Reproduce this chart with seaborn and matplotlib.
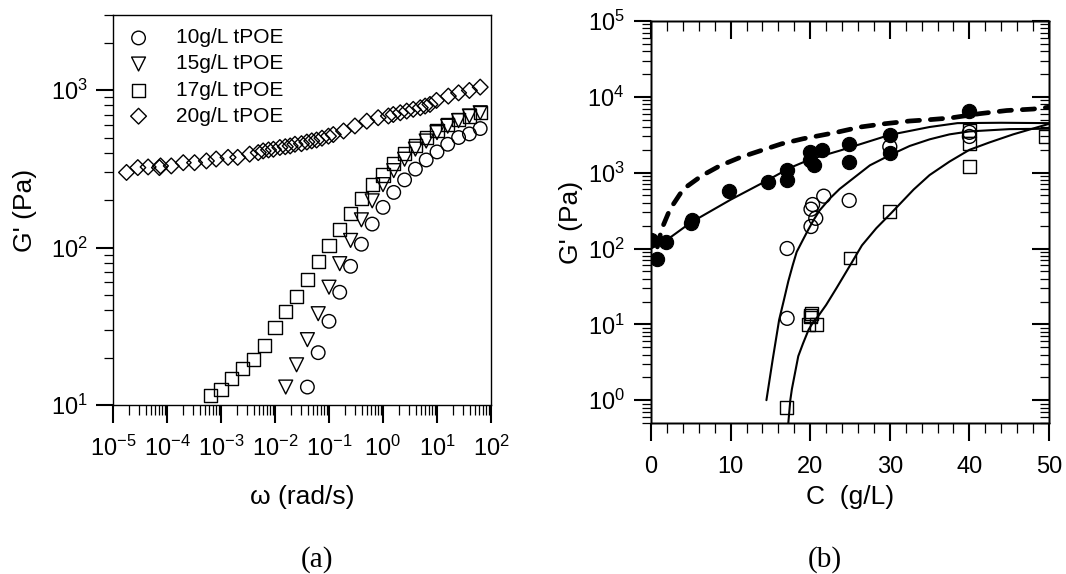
import numpy as np
import pandas as pd
import matplotlib
matplotlib.use("Agg")
import matplotlib.pyplot as plt
import matplotlib.ticker as mticker
import seaborn as sns

# (a) G' vs omega, four tPOE concentrations
w_10 = [0.0398, 0.0631, 0.1, 0.158, 0.251, 0.398, 0.631, 1.0, 1.58, 2.51,
        3.98, 6.31, 10.0, 15.8, 25.1, 39.8, 63.1]
g_10 = [13, 21.5, 34, 52, 76, 105, 141, 180, 224, 269,
        315, 360, 405, 453, 500, 527, 570]

w_15 = [0.0158, 0.0251, 0.0398, 0.0631, 0.1, 0.158, 0.251, 0.398, 0.631, 1.0,
        1.58, 2.51, 3.98, 6.31, 10.0, 15.8, 25.1, 39.8, 63.1]
g_15 = [13, 18, 26, 38, 56, 79, 111, 150, 198, 251,
        308, 364, 422, 475, 537, 590, 640, 685, 718]

w_17 = [6.31e-4, 1.0e-3, 1.58e-3, 2.51e-3, 3.98e-3, 6.31e-3, 0.01, 0.0158, 0.0251,
        0.0398, 0.0631, 0.1, 0.158, 0.251, 0.398, 0.631, 1.0, 1.58, 2.51, 3.98,
        6.31, 10.0, 15.8, 25.1, 39.8, 63.1]
g_17 = [11.5, 12.6, 14.8, 17.1, 19.5, 24, 31, 39, 49,
        63, 81, 103, 131, 165, 205, 250, 289, 341, 395, 447,
        500, 552, 602, 650, 685, 718]

w_20 = [1.78e-5, 2.88e-5, 4.47e-5, 7.24e-5, 7.59e-5, 1.20e-4, 2.00e-4, 3.24e-4,
        5.37e-4, 8.13e-4, 1.35e-3, 2.04e-3, 3.39e-3, 4.90e-3, 6.03e-3, 7.59e-3,
        9.33e-3, 0.0123, 0.0155, 0.0191, 0.0234, 0.0309, 0.0389, 0.0479, 0.0589,
        0.0741, 0.0977, 0.120, 0.186, 0.302, 0.501, 0.813, 1.26, 1.55, 2.09, 2.75,
        3.63, 4.90, 6.03, 7.41, 9.77, 16.2, 25.1, 39.8, 63.1]
g_20 = [300, 322, 325, 322, 330, 330, 346, 346,
        355, 365, 374, 374, 392, 401, 411, 417,
        421, 432, 437, 442, 453, 457, 468, 476, 482,
        495, 510, 522, 550, 592, 635, 668, 685, 700, 718, 736,
        755, 773, 792, 811, 860, 916, 961, 995, 1045]

a_labels = ["10g/L tPOE", "15g/L tPOE", "17g/L tPOE", "20g/L tPOE"]

# (b) G' vs concentration
c_fill = [0, 0.75, 1.9, 5.0, 5.2, 9.8, 14.7, 17.1, 17.1, 20.0, 20.0, 20.5, 21.5,
          24.9, 24.9, 30.0, 30.0, 40.0]
g_fill = [130, 72, 120, 220, 235, 580, 750, 1100, 800, 1900, 1450, 1250, 2000,
          2400, 1400, 3100, 1800, 6500]

c_open = [17.1, 17.1, 20.1, 20.7, 20.1, 20.3, 21.7, 24.9, 30.0, 40.0, 40.0]
g_open = [100, 12, 195, 250, 330, 380, 490, 430, 2200, 3000, 3400]

c_sq = [17.0, 19.8, 20.0, 20.2, 20.0, 20.8, 25.0, 30.0, 40.0, 40.0, 40.0, 49.6]
g_sq = [0.8, 10, 12.5, 14, 13, 10, 75, 310, 1200, 2400, 3600, 3000]

# fitted curves
c_dash = [0.8, 1.34, 2.39, 4.06, 6.37, 8.67, 11.2, 13.7, 16.4, 19.1, 23.3, 26.3,
          29.2, 32.5, 35.0, 37.6, 41.3, 44.7, 48.0, 50.0]
g_dash = [105, 180, 330, 608, 910, 1235, 1590, 1940, 2400, 2800, 3400, 4000,
          4400, 4800, 5000, 5260, 6000, 6600, 6900, 7300]

c_fit1 = [0, 2, 5, 10, 14.5, 17.4, 20, 23.7, 30, 35, 38.5, 44, 50]
g_fit1 = [100, 130, 220, 440, 780, 1150, 1500, 1950, 3150, 4000, 4500, 4550, 4500]

c_fit2 = [14.5, 15.3, 16.1, 16.7, 17.25, 17.8, 18.3, 19.0, 19.6, 20.4, 21.2, 22.5,
          23.7, 25, 27.5, 30, 32.5, 35, 37.5, 40, 45, 50]
g_fit2 = [1.0, 3.5, 11.5, 21, 37, 60, 90, 125, 165, 235, 320, 460,
          610, 780, 1250, 1700, 2250, 2750, 3200, 3500, 3750, 3800]

c_fit3 = [17.25, 17.5, 17.7, 18.5, 19.1, 19.8, 20.4, 21, 22, 23.3, 24.8, 26.5,
          28.3, 30.2, 33, 35, 37.5, 40, 42.5, 45.5, 50]
g_fit3 = [0.5, 1.0, 1.4, 3.8, 5.6, 8.5, 10.8, 12.8, 18, 30, 55, 110,
          185, 295, 600, 930, 1400, 2000, 2500, 3200, 4400]

sns.set_style("ticks", {"axes.edgecolor": "black", "xtick.color": "black",
                        "ytick.color": "black", "text.color": "black",
                        "axes.labelcolor": "black"})
plt.rcParams["font.family"] = ["Liberation Sans", "DejaVu Sans"]
plt.rcParams["mathtext.default"] = "regular"
plt.rcParams["axes.linewidth"] = 1.0

fig = plt.figure(figsize=(10.66, 5.74), dpi=100)
ax_a = fig.add_axes([113 / 1066, 1 - 405 / 574, 378 / 1066, 390 / 574])
ax_b = fig.add_axes([651 / 1066, 1 - 423 / 574, 398 / 1066, 402 / 574])


def hollow(ax, x, y, marker, s, label=None):
    sns.scatterplot(x=x, y=y, marker=marker, s=s, facecolor="none",
                    edgecolor="black", linewidth=1.0, ax=ax, label=label, zorder=3)


# ---- panel (a)
ax_a.set_xscale("log")
ax_a.set_yscale("log")
hollow(ax_a, w_10, g_10, "o", 95, a_labels[0])
hollow(ax_a, w_15, g_15, "v", 100, a_labels[1])
hollow(ax_a, w_17, g_17, "s", 88, a_labels[2])
hollow(ax_a, w_20, g_20, "D", 64, a_labels[3])
ax_a.set_xlim(1e-5, 1e2)
ax_a.set_ylim(10, 3000)
ax_a.xaxis.set_major_locator(mticker.LogLocator(base=10, numticks=20))
ax_a.xaxis.set_minor_locator(mticker.LogLocator(base=10, subs=np.arange(2, 10), numticks=100))
ax_a.yaxis.set_major_locator(mticker.LogLocator(base=10, numticks=20))
ax_a.yaxis.set_minor_locator(mticker.LogLocator(base=10, subs=np.arange(2, 10), numticks=100))
ax_a.xaxis.set_minor_formatter(mticker.NullFormatter())
ax_a.yaxis.set_minor_formatter(mticker.NullFormatter())
ax_a.tick_params(axis="x", which="major", direction="out", length=13, width=1.5, pad=9, labelsize=17)
ax_a.tick_params(axis="x", which="minor", direction="out", length=7, width=0.9)
ax_a.tick_params(axis="y", which="major", direction="out", length=12, width=1.5, pad=6, labelsize=17)
ax_a.tick_params(axis="y", which="minor", direction="out", length=6.5, width=0.9)
for sp in ax_a.spines.values():
    sp.set_visible(True)
ax_a.set_xlabel("ω (rad/s)", fontsize=19)
ax_a.set_ylabel("G' (Pa)", fontsize=19)
ax_a.xaxis.set_label_coords(0.5, -0.205)
ax_a.yaxis.set_label_coords(-0.2, 0.5)
ax_a.legend(loc="upper left", bbox_to_anchor=(0.018, 0.987), frameon=False, fontsize=15,
            handletextpad=1.3, handlelength=1.0, labelspacing=0.34, borderaxespad=0,
            borderpad=0.4, scatterpoints=1)

# ---- panel (b)
ax_b.set_yscale("log")
sns.lineplot(x=c_dash, y=g_dash, ax=ax_b, color="black", linewidth=3.4,
             linestyle=(0, (2.6, 2.3)), dash_capstyle="round", estimator=None, zorder=2)
sns.lineplot(x=c_fit1, y=g_fit1, ax=ax_b, color="black", linewidth=1.5, estimator=None, zorder=2)
sns.lineplot(x=c_fit2, y=g_fit2, ax=ax_b, color="black", linewidth=1.5, estimator=None, zorder=2)
sns.lineplot(x=c_fit3, y=g_fit3, ax=ax_b, color="black", linewidth=1.5, estimator=None, zorder=2)
sns.scatterplot(x=c_fill, y=g_fill, ax=ax_b, marker="o", s=105, color="black",
                edgecolor="black", linewidth=0.8, zorder=4)
hollow(ax_b, c_open, g_open, "o", 100)
hollow(ax_b, c_sq, g_sq, "s", 85)
ax_b.set_xlim(0, 50)
ax_b.set_ylim(0.5, 1e5)
ax_b.xaxis.set_major_locator(mticker.MultipleLocator(10))
ax_b.xaxis.set_minor_locator(mticker.MultipleLocator(2))
ax_b.yaxis.set_major_locator(mticker.LogLocator(base=10, numticks=20))
ax_b.yaxis.set_minor_locator(mticker.LogLocator(base=10, subs=np.arange(2, 10), numticks=100))
ax_b.yaxis.set_minor_formatter(mticker.NullFormatter())
ax_b.tick_params(axis="x", which="major", direction="out", length=13, width=1.5, pad=11, labelsize=17)
ax_b.tick_params(axis="x", which="minor", direction="out", length=7, width=0.9)
ax_b.tick_params(axis="y", which="major", direction="out", length=12, width=1.5, pad=7, labelsize=17)
ax_b.tick_params(axis="y", which="minor", direction="out", length=6.5, width=0.9)
ax_b.set_xlabel("C  (g/L)", fontsize=19)
ax_b.set_ylabel("G' (Pa)", fontsize=19)
ax_b.xaxis.set_label_coords(0.5, -0.155)
ax_b.yaxis.set_label_coords(-0.17, 0.5)

# inward ticks on top and right edges
ax_top = ax_b.twiny()
ax_top.set_xlim(0, 50)
ax_top.xaxis.set_major_locator(mticker.MultipleLocator(10))
ax_top.xaxis.set_minor_locator(mticker.MultipleLocator(2))
ax_top.tick_params(axis="x", which="major", direction="in", length=13, width=1.5, labeltop=False)
ax_top.tick_params(axis="x", which="minor", direction="in", length=7, width=0.9)
ax_right = ax_b.twinx()
ax_right.set_yscale("log")
ax_right.set_ylim(0.5, 1e5)
ax_right.yaxis.set_major_locator(mticker.LogLocator(base=10, numticks=20))
ax_right.yaxis.set_minor_locator(mticker.LogLocator(base=10, subs=np.arange(2, 10), numticks=100))
ax_right.yaxis.set_minor_formatter(mticker.NullFormatter())
ax_right.tick_params(axis="y", which="major", direction="in", length=12, width=1.5, labelright=False)
ax_right.tick_params(axis="y", which="minor", direction="in", length=6.5, width=0.9)

fig.text(317 / 1066, 1 - 560 / 574, "(a)", ha="center", va="center",
         fontsize=21, family=["Liberation Serif", "DejaVu Serif"])
fig.text(825 / 1066, 1 - 560 / 574, "(b)", ha="center", va="center",
         fontsize=21, family=["Liberation Serif", "DejaVu Serif"])

fig.savefig("out.png", dpi=100)
